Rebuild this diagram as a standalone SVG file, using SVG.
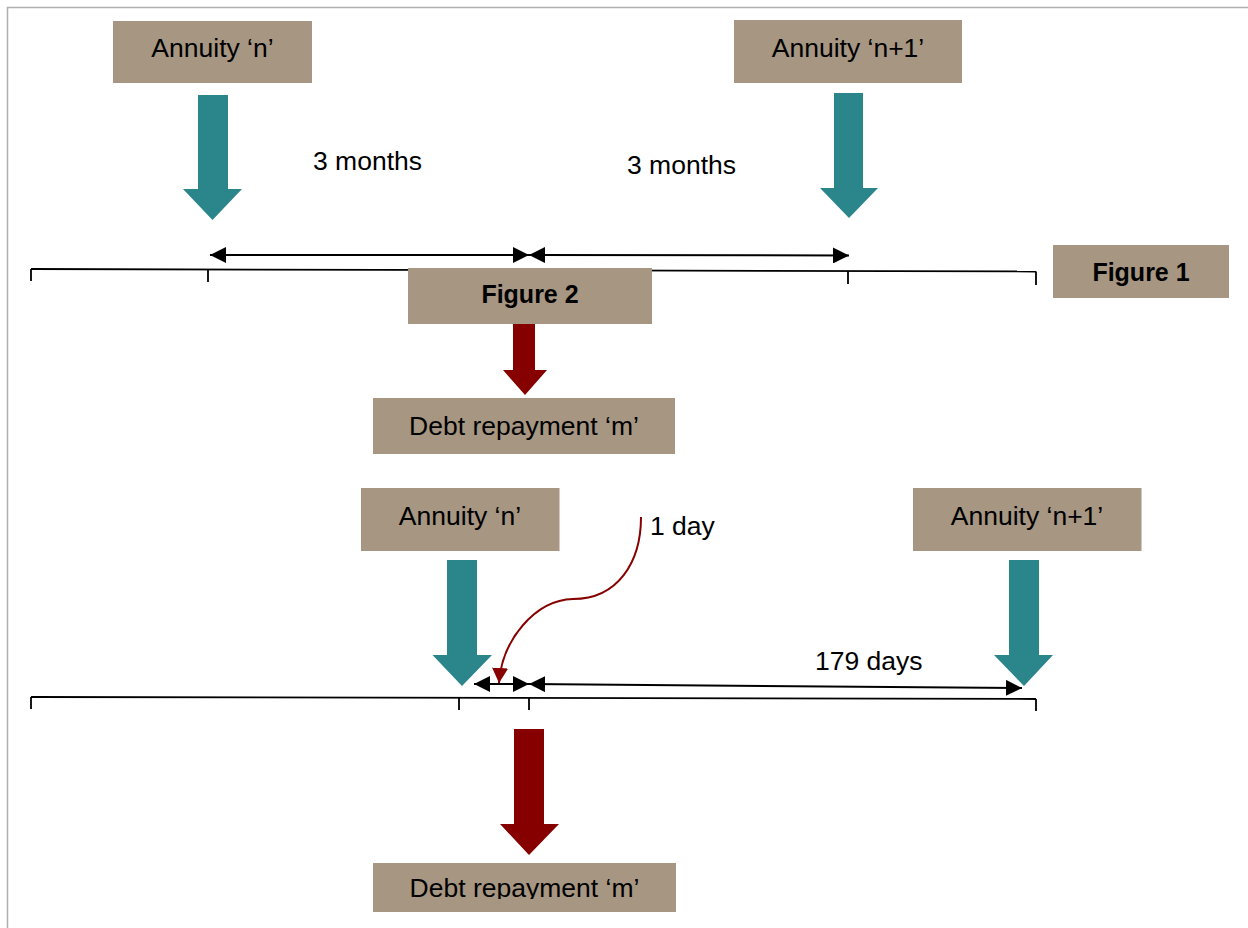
<svg xmlns="http://www.w3.org/2000/svg" width="1248" height="928" viewBox="0 0 1248 928">
<style>
.box{fill:#a69682}
.t{font-family:"Liberation Sans",Arial,sans-serif;font-size:26.5px;fill:#000}
.b{font-weight:bold;font-size:25px}
.mid{text-anchor:middle}
.teal{fill:#2a868a}
.red{fill:#860000}
.ln{stroke:#000;stroke-width:2;fill:none}
.tl{stroke:#000;stroke-width:1.8;fill:none}
</style>
<defs>
<marker id="ah" markerUnits="userSpaceOnUse" markerWidth="16" markerHeight="16" refX="15" refY="7.5" orient="auto-start-reverse" viewBox="0 0 15 15">
<path d="M0,0 L15,7.5 L0,15 z" fill="#000"/>
</marker>
<marker id="ahr" markerUnits="userSpaceOnUse" markerWidth="16" markerHeight="16" refX="15" refY="8" orient="auto" viewBox="0 0 16 16">
<path d="M0,0 L15,8 L0,16 z" fill="#860000"/>
</marker>
<clipPath id="clipBottom"><rect x="373" y="863" width="303" height="36"/></clipPath>
</defs>
<rect width="1248" height="928" fill="#fff"/>
<path d="M7.5,928 V7.5 H1248" stroke="#b0b0b0" stroke-width="1.5" fill="none"/>

<g id="timeline1">
<path class="tl" d="M31,269 L1036,271.5"/>
<path class="tl" d="M31,269 V281 M208,269.5 V282 M848,271 V284 M1036,271.5 V285"/>
</g>
<g id="timeline2">
<path class="tl" d="M31,697 L1036,699"/>
<path class="tl" d="M31,697 V709 M459,698 V710 M529,698 V710 M1036,699 V711"/>
</g>

<g id="connectors">
<line class="ln" x1="210" y1="255" x2="529" y2="255" marker-start="url(#ah)" marker-end="url(#ah)"/>
<line class="ln" x1="529" y1="255" x2="849" y2="255.5" marker-start="url(#ah)" marker-end="url(#ah)"/>
<line class="ln" x1="474" y1="684" x2="529" y2="684" marker-start="url(#ah)" marker-end="url(#ah)"/>
<line class="ln" x1="529" y1="684" x2="1022" y2="688" marker-start="url(#ah)" marker-end="url(#ah)"/>
<path d="M641,517 C641,562 618,599 573,599 C535,600 502,640 499,683" stroke="#860000" stroke-width="2" fill="none" marker-end="url(#ahr)"/>
</g>

<g id="arrow-n-top"><path class="teal" d="M198,95 H228 V189 H242 L212.5,220 L183,189 H198 Z"/></g>
<g id="arrow-n1-top"><path class="teal" d="M834,93 H863 V188 H878 L849,218 L820,188 H834 Z"/></g>
<g id="arrow-m-top"><path class="red" d="M513,324 H535 V370 H547 L525,395 L503,370 H513 Z"/></g>
<g id="arrow-n-bot"><path class="teal" d="M447,560 H477 V655 H492 L462,686 L432.5,655 H447 Z"/></g>
<g id="arrow-n1-bot"><path class="teal" d="M1009,560 H1039 V655 H1053 L1024,686 L994,655 H1009 Z"/></g>
<g id="arrow-m-bot"><path class="red" d="M514,729 H544 V824 H559 L529,855 L500,824 H514 Z"/></g>

<g id="annuity-n-top"><rect class="box" x="113" y="21" width="199" height="62"/><text class="t mid" x="212.5" y="57">Annuity ‘n’</text></g>
<g id="annuity-n1-top"><rect class="box" x="734" y="20" width="228" height="63"/><text class="t mid" x="848" y="57">Annuity ‘n+1’</text></g>
<g id="figure1"><rect class="box" x="1053" y="245" width="176" height="53"/><text class="t b mid" x="1141" y="281">Figure 1</text></g>
<g id="figure2"><rect class="box" x="408" y="268" width="244" height="56"/><text class="t b mid" x="530" y="303">Figure 2</text></g>
<g id="debt-top"><rect class="box" x="373" y="398" width="302" height="56"/><text class="t mid" x="524" y="435">Debt repayment ‘m’</text></g>
<g id="annuity-n-bot"><rect class="box" x="361" y="488" width="198.5" height="63"/><text class="t mid" x="460" y="525">Annuity ‘n’</text></g>
<g id="annuity-n1-bot"><rect class="box" x="913" y="488" width="228.5" height="63"/><text class="t mid" x="1027" y="525">Annuity ‘n+1’</text></g>
<g id="debt-bot"><rect class="box" x="373" y="863" width="303" height="49"/><text class="t mid" x="524.5" y="897" clip-path="url(#clipBottom)">Debt repayment ‘m’</text></g>

<g id="labels">
<text class="t" x="313" y="170">3 months</text>
<text class="t" x="627" y="174">3 months</text>
<text class="t" x="650" y="535">1 day</text>
<text class="t" x="815" y="670">179 days</text>
</g>
</svg>
